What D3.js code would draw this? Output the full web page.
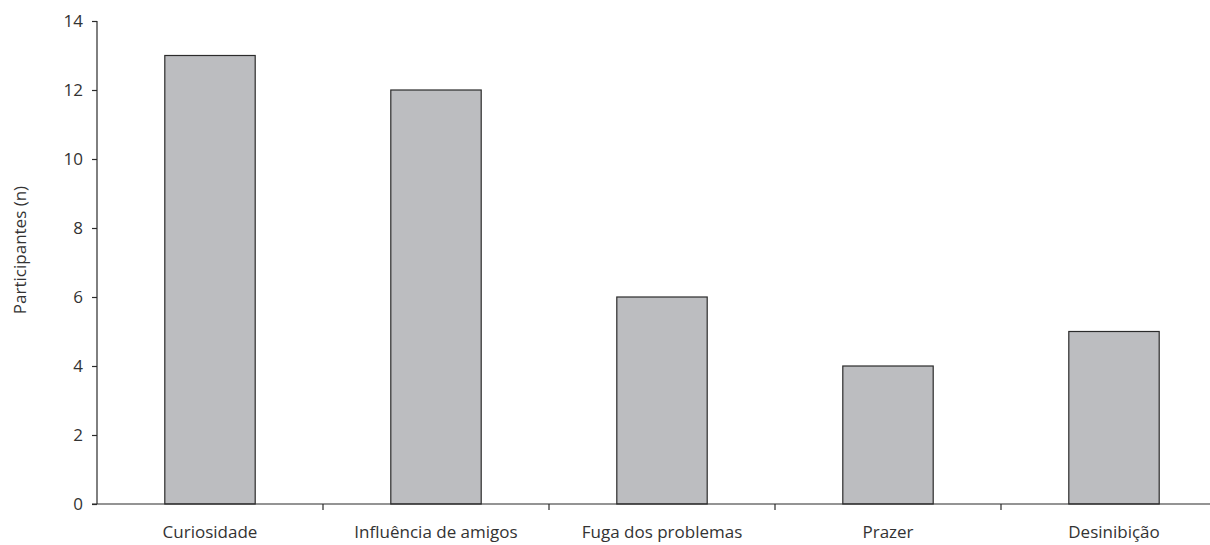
<!DOCTYPE html>
<html>
<head>
<meta charset="utf-8">
<script src="https://cdn.jsdelivr.net/npm/d3@7"></script>
<style>
  body { margin: 0; background: #fff; }
  svg text { font-family: "Open Sans", "Noto Sans", sans-serif; fill: #333; }
</style>
</head>
<body>
<div id="chart"></div>
<script>
var categories = ["Curiosidade", "Influência de amigos", "Fuga dos problemas", "Prazer", "Desinibição"]
var participants = [13, 12, 6, 4, 5]
var yTicks = [0, 2, 4, 6, 8, 10, 12, 14]

var width = 1210, height = 545
var margin = {top: 21, left: 97, bottom: 41}

var svg = d3.select("#chart").append("svg")
  .attr("width", width)
  .attr("height", height)

// band scale runs past the right edge, like the original crop
var x = d3.scaleBand()
  .domain(categories)
  .range([margin.left, 1227])
  .paddingInner(0.6)
  .paddingOuter(0.3)

var y = d3.scaleLinear()
  .domain([0, 14])
  .range([height - margin.bottom, margin.top])

// bars
svg.append("g").selectAll("rect")
  .data(participants)
  .enter()
  .append("rect")
  .attr("x", function(d, i){ return x(categories[i]) })
  .attr("y", function(d){ return y(d) })
  .attr("width", x.bandwidth())
  .attr("height", function(d){ return y(0) - y(d) })
  .style("fill", "#bcbdc0")
  .style("stroke", "#2b2b2b")
  .style("stroke-width", 1.2)

// y axis
var yAxis = svg.append("g")
  .attr("transform", `translate(${margin.left},0)`)
  .call(d3.axisLeft(y).tickValues(yTicks).tickSize(5).tickPadding(9).tickSizeOuter(0))
yAxis.selectAll("path, line").style("stroke", "#2b2b2b").style("stroke-width", 1.2)
yAxis.selectAll("text").style("font-size", "17px").style("fill", "#333").style("font-family", "'Open Sans', sans-serif")
yAxis.select(".domain").remove()
svg.append("line")
  .attr("x1", margin.left).attr("x2", margin.left)
  .attr("y1", y(14)).attr("y2", y(0))
  .style("stroke", "#2b2b2b").style("stroke-width", 1.2)

// x axis line and ticks at band boundaries
var xr = x.range()
svg.append("line")
  .attr("x1", margin.left - 5).attr("x2", xr[1])
  .attr("y1", y(0)).attr("y2", y(0))
  .style("stroke", "#2b2b2b").style("stroke-width", 1.2)

var boundaries = d3.range(1, categories.length).map(function(i){ return xr[0] + i * x.step() })
svg.append("g").selectAll("line")
  .data(boundaries)
  .enter()
  .append("line")
  .attr("x1", function(d){ return d }).attr("x2", function(d){ return d })
  .attr("y1", y(0)).attr("y2", y(0) + 6)
  .style("stroke", "#2b2b2b").style("stroke-width", 1.2)

// category labels
svg.append("g").selectAll("text")
  .data(categories)
  .enter()
  .append("text")
  .attr("x", function(d){ return x(d) + x.bandwidth() / 2 })
  .attr("y", 538)
  .attr("text-anchor", "middle")
  .style("font-size", "17px")
  .text(function(d){ return d })

// y label
svg.append("text")
  .attr("transform", "translate(26,250) rotate(-90)")
  .attr("text-anchor", "middle")
  .style("font-size", "17px")
  .text("Participantes (n)")
</script>
</body>
</html>
